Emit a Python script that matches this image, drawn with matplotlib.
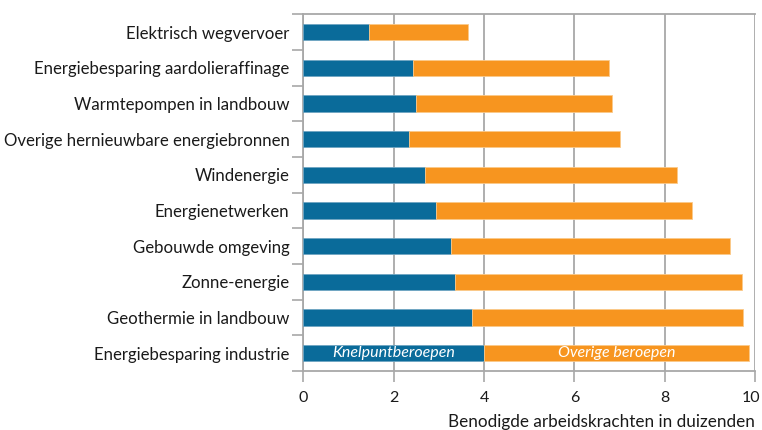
import matplotlib.pyplot as plt
import matplotlib.transforms as mtransforms
import numpy as np

# categories, top to bottom as in the chart
categories = ['Elektrisch wegvervoer', 'Energiebesparing aardolieraffinage',
              'Warmtepompen in landbouw', 'Overige hernieuwbare energiebronnen',
              'Windenergie', 'Energienetwerken', 'Gebouwde omgeving',
              'Zonne-energie', 'Geothermie in landbouw', 'Energiebesparing industrie']
knelpunt = [1.46, 2.42, 2.50, 2.33, 2.69, 2.93, 3.26, 3.35, 3.73, 4.00]
totaal = [3.65, 6.76, 6.83, 7.02, 8.28, 8.60, 9.45, 9.71, 9.74, 9.86]
overig = [t - k for t, k in zip(totaal, knelpunt)]
xticks = [0, 2, 4, 6, 8, 10]

blue = '#0A6B9A'
orange = '#F7951F'
grid_col = '#A8A8A8'

plt.rcParams['font.family'] = ['Lato', 'DejaVu Sans']

fig = plt.figure(figsize=(7.62, 4.30), dpi=100)
ax = fig.add_axes([0.398, 0.137, 0.593, 0.830])

y = np.arange(len(categories))
ax.barh(y, knelpunt, height=0.46, color=blue, edgecolor='#6FA5C2', linewidth=0.6, zorder=3)
ax.barh(y, overig, left=knelpunt, height=0.46, color=orange, edgecolor='#FBC98A',
        linewidth=0.6, zorder=3)

ax.set_ylim(len(categories) - 0.5, -0.5)
ax.set_xlim(0, 10)

# category labels without ticks, ticks at boundaries
ax.set_yticks(y)
ax.set_yticklabels(categories, fontsize=12.1, color='#1a1a1a')
ax.tick_params(axis='y', length=0, pad=10)
ax.set_yticks(np.arange(-0.5, len(categories) + 0.5, 1.0), minor=True)
ax.tick_params(axis='y', which='minor', length=8, width=1.2, color=grid_col)

ax.set_xticks(xticks)
ax.set_xticklabels([str(v) for v in xticks], fontsize=11.5, color='#1a1a1a')
ax.tick_params(axis='x', length=8, width=1.2, color=grid_col, pad=6)
# nudge the last tick label so it stays inside the figure
lab = ax.get_xticklabels()[-1]
lab.set_transform(lab.get_transform() + mtransforms.ScaledTranslation(-4 / 100, 0, fig.dpi_scale_trans))

ax.grid(axis='x', color=grid_col, linewidth=1.3, zorder=0)
for s in ['top', 'bottom', 'left', 'right']:
    ax.spines[s].set_color(grid_col)
    ax.spines[s].set_linewidth(1.3)
ax.spines['right'].set_visible(False)

# labels inside the last bar
last = len(categories) - 1
ax.text(knelpunt[last] / 2, last, 'Knelpuntberoepen', color='white', style='italic',
        fontsize=11.5, ha='center', va='center', zorder=4)
ax.text((knelpunt[last] + totaal[last]) / 2, last, 'Overige beroepen', color='white',
        style='italic', fontsize=11.5, ha='center', va='center', zorder=4)

fig.text(0.991, 0.0, 'Benodigde arbeidskrachten in duizenden', ha='right',
         va='bottom', fontsize=12.3, color='#1a1a1a')

fig.savefig('out.png', dpi=100)
